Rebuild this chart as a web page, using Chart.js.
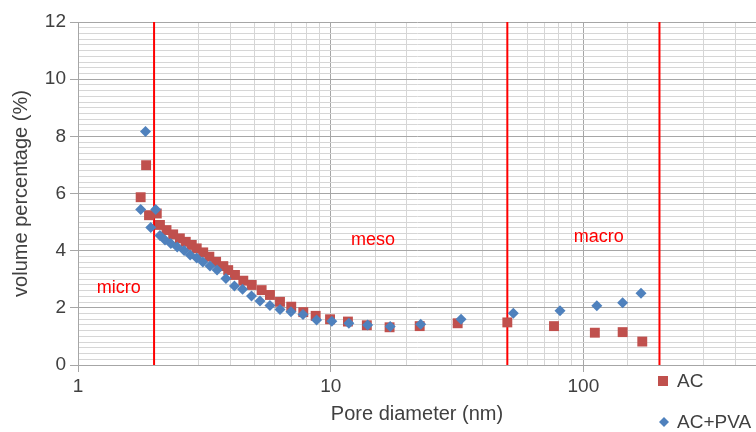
<!DOCTYPE html>
<html>
<head>
<meta charset="utf-8">
<title>Pore size distribution</title>
<script src="https://cdn.jsdelivr.net/npm/chart.js@4.4.1/dist/chart.umd.min.js"></script>
<style>
  html, body { margin: 0; padding: 0; background: #fff; }
  #caixa { width: 756px; height: 432px; }
</style>
</head>
<body>
<div id="caixa"><canvas id="grafico"></canvas></div>
<script>
// Pore diameter (nm) and volume percentage (%) for each sample
const diamAC = [1.77, 1.86, 1.91, 2.05, 2.11, 2.24, 2.38, 2.53, 2.67, 2.82, 2.95, 3.13,
  3.31, 3.52, 3.76, 3.93, 4.18, 4.51, 4.87, 5.33, 5.75, 6.30, 6.98, 7.79, 8.72, 9.94,
  11.7, 13.9, 17.1, 22.5, 31.8, 50.0, 76.5, 111, 143, 171];
const volAC = [5.87, 6.99, 5.24, 5.30, 4.90, 4.72, 4.57, 4.43, 4.31, 4.20, 4.08, 3.94,
  3.79, 3.61, 3.46, 3.32, 3.15, 2.95, 2.80, 2.62, 2.45, 2.21, 2.04, 1.85, 1.72, 1.60,
  1.52, 1.39, 1.32, 1.36, 1.46, 1.49, 1.36, 1.13, 1.15, 0.82];

const diamPVA = [1.77, 1.85, 1.94, 2.03, 2.11, 2.21, 2.33, 2.47, 2.63, 2.78, 2.95, 3.12,
  3.33, 3.55, 3.85, 4.16, 4.48, 4.86, 5.25, 5.75, 6.30, 6.96, 7.77, 8.79, 10.1, 11.8,
  14.0, 17.2, 22.7, 32.8, 52.8, 80.8, 113, 143, 169];
const volPVA = [5.44, 8.17, 4.81, 5.44, 4.53, 4.37, 4.25, 4.13, 4.01, 3.85, 3.74, 3.60,
  3.46, 3.32, 3.03, 2.76, 2.65, 2.41, 2.24, 2.08, 1.94, 1.86, 1.77, 1.57, 1.53, 1.46,
  1.40, 1.35, 1.43, 1.60, 1.81, 1.90, 2.07, 2.18, 2.51];

// Pore class boundaries (nm) and their names
const limites = [2, 50, 200];
const zonas = ["micro", "meso", "macro"];
const zonaX = [1.45, 14.7, 115];
const zonaY = [2.7, 4.37, 4.48];

const rotulosX = [1, 10, 100];
const rotulosY = [0, 2, 4, 6, 8, 10, 12];
const series = ["AC", "AC+PVA"];

const corAC = "#c0504d";
const corPVA = "#4f81bd";
const cinzaForte = "#a6a6a6";
const cinzaFraco = "#d6d6d6";
const fonte = "'Liberation Sans', Arial, sans-serif";

function junta(xs, ys) {
  return xs.map((x, i) => ({ x: x, y: ys[i] }));
}

function ehMaiorY(v) {
  return rotulosY.some(r => Math.abs(r - v) < 1e-6);
}
function ehMaiorX(v) {
  return rotulosX.some(r => Math.abs(r - v) < 1e-6);
}

// vertical red lines at the class boundaries
const linhas = limites.map(l => ({
  data: [{ x: l, y: 0 }, { x: l, y: 12 }],
  showLine: true,
  borderColor: "#ff0000",
  borderWidth: 2,
  pointRadius: 0,
  order: 3
}));

// zone names and the legend under the plot
const textos = {
  id: "textos",
  afterDatasetsDraw(chart) {
    const ctx = chart.ctx;
    const sx = chart.scales.x, sy = chart.scales.y;
    ctx.save();
    ctx.font = "18px " + fonte;
    ctx.fillStyle = "#ff0000";
    ctx.textAlign = "center";
    ctx.textBaseline = "middle";
    for (let i = 0; i < zonas.length; i++) {
      ctx.fillText(zonas[i], sx.getPixelForValue(zonaX[i]), sy.getPixelForValue(zonaY[i]));
    }
    ctx.restore();
  },
  afterDraw(chart) {
    const ctx = chart.ctx;
    ctx.save();
    // square marker
    ctx.fillStyle = corAC;
    ctx.fillRect(658, 376, 10, 10);
    // diamond marker
    ctx.fillStyle = corPVA;
    ctx.beginPath();
    ctx.moveTo(664, 417);
    ctx.lineTo(669, 422);
    ctx.lineTo(664, 427);
    ctx.lineTo(659, 422);
    ctx.closePath();
    ctx.fill();
    ctx.font = "19px " + fonte;
    ctx.fillStyle = "#404040";
    ctx.textAlign = "left";
    ctx.textBaseline = "middle";
    ctx.fillText(series[0], 677, 382);
    ctx.fillText(series[1], 677, 423);
    ctx.restore();
  }
};

new Chart(document.getElementById("grafico"), {
  type: "scatter",
  data: {
    datasets: [
      {
        label: series[0],
        data: junta(diamAC, volAC),
        pointStyle: "rect",
        pointRadius: 7,
        pointHoverRadius: 7,
        backgroundColor: corAC,
        borderColor: corAC,
        borderWidth: 0,
        order: 2
      },
      {
        label: series[1],
        data: junta(diamPVA, volPVA),
        pointStyle: "rectRot",
        pointRadius: 5.5,
        pointHoverRadius: 5.5,
        backgroundColor: corPVA,
        borderColor: corPVA,
        borderWidth: 0,
        order: 1
      },
      ...linhas
    ]
  },
  options: {
    responsive: true,
    maintainAspectRatio: false,
    animation: false,
    layout: {
      autoPadding: false,
      padding: { top: 22, right: 0, left: 0, bottom: 0 }
    },
    plugins: {
      legend: { display: false },
      tooltip: { enabled: false }
    },
    scales: {
      x: {
        type: "logarithmic",
        min: 1,
        max: 482,
        afterFit(s) {
          s.height = 67;
          s.paddingLeft = 0;
          s.paddingRight = 0;
        },
        border: { color: cinzaForte },
        grid: {
          color: c => ehMaiorX(c.tick.value) ? cinzaForte : cinzaFraco,
          tickColor: c => ehMaiorX(c.tick.value) ? cinzaForte : "rgba(0,0,0,0)",
          tickLength: 7
        },
        ticks: {
          autoSkip: false,
          maxRotation: 0,
          padding: 3,
          color: "#404040",
          font: { family: fonte, size: 19 },
          callback: v => ehMaiorX(v) ? String(v) : ""
        },
        title: {
          display: true,
          text: "Pore diameter (nm)",
          color: "#404040",
          font: { family: fonte, size: 20 },
          padding: { top: 0, bottom: 6 }
        }
      },
      y: {
        min: 0,
        max: 12,
        afterFit(s) { s.width = 78; },
        border: { color: cinzaForte },
        grid: {
          color: c => ehMaiorY(c.tick.value) ? cinzaForte : cinzaFraco,
          tickColor: c => ehMaiorY(c.tick.value) ? cinzaForte : "rgba(0,0,0,0)",
          tickLength: 8
        },
        ticks: {
          stepSize: 0.2,
          autoSkip: false,
          padding: 4,
          color: "#404040",
          font: { family: fonte, size: 19 },
          callback: v => ehMaiorY(v) ? String(Math.round(v)) : ""
        },
        title: {
          display: true,
          text: "volume percentage (%)",
          color: "#404040",
          font: { family: fonte, size: 20 },
          padding: { top: 9, bottom: 0 }
        }
      }
    }
  },
  plugins: [textos]
});
</script>
</body>
</html>
